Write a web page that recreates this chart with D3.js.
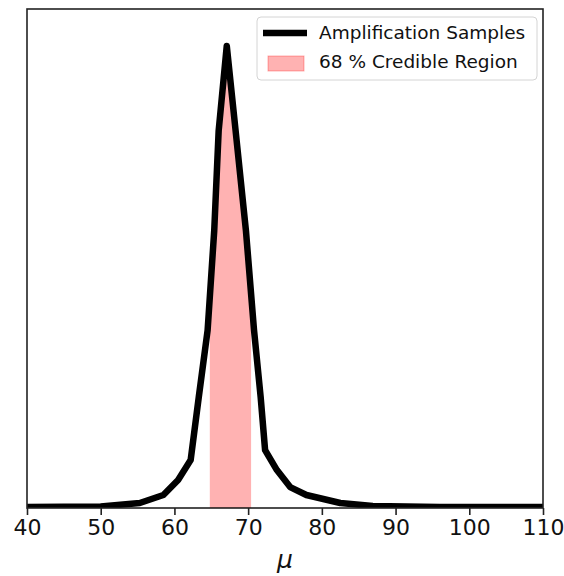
<!DOCTYPE html>
<html>
<head>
<meta charset="utf-8">
<script src="https://cdn.jsdelivr.net/npm/d3@7"></script>
<style>
  html, body { margin: 0; padding: 0; background: #fff; }
  svg { display: block; }
  text { font-family: "DejaVu Sans", sans-serif; }
</style>
</head>
<body>
<svg id="chart" width="564" height="576"></svg>
<script>
// ---- data ----
const muValues = [40, 50, 55.3, 58.5, 60.5, 62.2, 63.3, 64.5, 65.4, 66.0, 67.1, 68.3, 69.7, 70.8, 71.7, 72.3, 73.9, 75.7, 77.9, 82.5, 86.9, 96, 110];
const densityValues = [0.0004, 0.0006, 0.0020, 0.0052, 0.0112, 0.0192, 0.0444, 0.0712, 0.1112, 0.1512, 0.1852, 0.1512, 0.1112, 0.0712, 0.0444, 0.0232, 0.0152, 0.0084, 0.0052, 0.0020, 0.0008, 0.0004, 0.0004];
const credibleRegion = [64.8, 70.4];
const xTicks = [40, 50, 60, 70, 80, 90, 100, 110];
const xDomain = [40, 110];
const yDomain = [0, 0.2];
const legendLabels = ["Amplification Samples", "68 % Credible Region"];
const xLabel = "μ";

// ---- layout ----
const svg = d3.select("#chart");
const pL = 27, pR = 543, pT = 9, pB = 508;

const x = d3.scaleLinear().domain(xDomain).range([pL, pR]);
const y = d3.scaleLinear().domain(yDomain).range([pB, pT]);

const pts = muValues.map((m, i) => ({mu: m, d: densityValues[i]}));

const defs = svg.append("defs");
defs.append("clipPath").attr("id", "plotClip")
  .append("rect").attr("x", pL).attr("y", pT).attr("width", pR - pL).attr("height", pB - pT);
defs.append("clipPath").attr("id", "credClip")
  .append("rect")
  .attr("x", x(credibleRegion[0])).attr("y", pT)
  .attr("width", x(credibleRegion[1]) - x(credibleRegion[0]))
  .attr("height", pB - pT);

const plot = svg.append("g").attr("clip-path", "url(#plotClip)");

// credible region fill under curve
const area = d3.area().x(d => x(d.mu)).y0(y(0)).y1(d => y(d.d));
plot.append("g").attr("clip-path", "url(#credClip)")
  .append("path")
  .datum(pts)
  .attr("d", area)
  .attr("fill", "#ff0000")
  .attr("fill-opacity", 0.3)
  .attr("stroke", "#ff0000")
  .attr("stroke-opacity", 0.3);

// curve
const line = d3.line().x(d => x(d.mu)).y(d => y(d.d));
plot.append("path")
  .datum(pts)
  .attr("d", line)
  .attr("fill", "none")
  .attr("stroke", "#000")
  .attr("stroke-width", 6.5)
  .attr("stroke-linejoin", "round")
  .attr("stroke-linecap", "butt");

// x axis
const xAxis = d3.axisBottom(x).tickValues(xTicks).tickSize(7).tickPadding(4).tickFormat(d3.format("d"));
const gx = svg.append("g").attr("transform", `translate(0,${pB})`).call(xAxis);
gx.select(".domain").remove();
gx.selectAll(".tick line").attr("stroke", "#222").attr("stroke-width", 1.6);
gx.selectAll(".tick text")
  .attr("font-size", 22)
  .attr("fill", "#111")
  .attr("font-family", "DejaVu Sans");

// frame
svg.append("rect")
  .attr("x", pL).attr("y", pT)
  .attr("width", pR - pL).attr("height", pB - pT)
  .attr("fill", "none").attr("stroke", "#222").attr("stroke-width", 1.6);

// x label
svg.append("text")
  .attr("x", (pL + pR) / 2)
  .attr("y", 568)
  .attr("text-anchor", "middle")
  .attr("font-size", 25)
  .attr("font-style", "italic")
  .attr("fill", "#111")
  .text(xLabel);

// legend
const lg = svg.append("g");
lg.append("rect")
  .attr("x", 257).attr("y", 17).attr("width", 280).attr("height", 63)
  .attr("rx", 4)
  .attr("fill", "#fff").attr("fill-opacity", 0.8)
  .attr("stroke", "#d4d4d4").attr("stroke-width", 1);
lg.append("line")
  .attr("x1", 263).attr("x2", 307).attr("y1", 33).attr("y2", 33)
  .attr("stroke", "#000").attr("stroke-width", 6.5);
lg.append("rect")
  .attr("x", 268).attr("y", 56).attr("width", 36).attr("height", 15)
  .attr("fill", "#ff0000").attr("fill-opacity", 0.3)
  .attr("stroke", "#ff0000").attr("stroke-opacity", 0.3);
lg.selectAll("text.lab").data(legendLabels).enter().append("text")
  .attr("class", "lab")
  .attr("x", 319)
  .attr("y", (d, i) => 39 + i * 29)
  .attr("font-size", 18.5)
  .attr("fill", "#111")
  .text(d => d);
</script>
</body>
</html>
